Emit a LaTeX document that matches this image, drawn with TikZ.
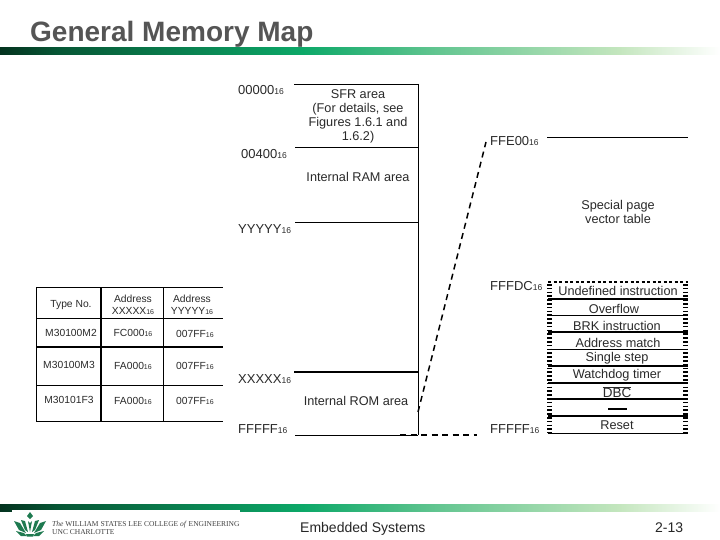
\documentclass[tikz,border=0pt]{standalone}
\usepackage{fontspec}
\setmainfont{Liberation Sans}
\newfontfamily\serifcollege{Liberation Serif}
\usetikzlibrary{shadings}
\definecolor{bardark}{HTML}{04331F}
\definecolor{barmid}{HTML}{0CA868}
\definecolor{barlight}{HTML}{C4E6BE}
\definecolor{titlegray}{HTML}{555555}
\definecolor{textgray}{HTML}{2A2A2A}
\definecolor{logogreen}{HTML}{1E7A50}
\pgfdeclarehorizontalshading{barshade}{100bp}{
  color(0bp)=(bardark); color(25bp)=(bardark); color(29bp)=(bardark!70!barmid); color(46bp)=(barmid);
  color(56bp)=(barmid!50!barlight); color(68bp)=(barlight); color(75bp)=(white); color(100bp)=(white)}
\newcommand{\hexsub}[2][8.5]{#2{\fontsize{#1}{9}\selectfont 16}}
\tikzset{
  x=1pt,y=-1pt,
  lab/.style={inner sep=0pt,font=\fontsize{12.7}{14}\selectfont,text=textgray,align=center},
  addr/.style={inner sep=0pt,anchor=west,font=\fontsize{13}{14}\selectfont,text=textgray},
  tab/.style={inner sep=0pt,font=\fontsize{10.3}{11.5}\selectfont,text=textgray,align=center},
  rule/.style={draw=black,line width=0.8pt},
  thick rule/.style={draw=black,line width=1.5pt},
  side dash/.style={draw=black,line width=5pt,dash pattern=on 1.6pt off 2.2pt},
  link/.style={draw=black,line width=1.5pt,dash pattern=on 6pt off 4.5pt},
}
\begin{document}
\begin{tikzpicture}
\useasboundingbox (0,0) rectangle (720,540);
\fill[white] (0,0) rectangle (720,540);
% header and footer bars
\shade[shading=barshade] (0,48) rectangle (720,55);
\shade[shading=barshade] (0,504) rectangle (720,511);
\fill[white] (12,510) rectangle (240,513);
\node[inner sep=0pt,anchor=base west,font=\bfseries\fontsize{28}{30}\selectfont,text=titlegray] (title) at (30,42) {General Memory Map};
% memory map
\coordinate (mt) at (418,84); \coordinate (mb) at (418,435);
\draw[rule] (mt) -- (mb);
\draw[rule] (294,84) -- (mt);
\draw[rule] (295,147) -- (418,147);
\draw[rule] (295,222) -- (418,222);
\draw[thick rule] (294,372) -- (418,372);
\draw[rule] (295,435) -- (mb);
\node[addr] (a0) at (238,90) {\hexsub{00000}};
\node[addr] (a1) at (241,154) {\hexsub{00400}};
\node[addr] (a2) at (238,229) {\hexsub{YYYYY}};
\node[addr] (a3) at (238,379) {\hexsub{XXXXX}};
\node[addr] (a4) at (238,429) {\hexsub{FFFFF}};
\node[lab] (sfr) at (358,116) {SFR area\\(For details, see\\Figures 1.6.1 and\\1.6.2)};
\node[lab] (ram) at (358,177) {Internal RAM area};
\node[lab] (rom) at (356,401) {Internal ROM area};
% expansion
\coordinate (zb) at (418,412); \coordinate (zt) at (486,142);
\draw[link] (zb) -- (zt);
\draw[link] (400,435) -- (477,435);
\node[addr] (b0) at (490,141) {\hexsub{FFE00}};
\node[addr] (b1) at (490,286) {\hexsub{FFFDC}};
\node[addr] (b2) at (490,429) {\hexsub{FFFFF}};
\draw[rule] (547,137) -- (688,137);
\node[lab] (spv) at (618,212) {Special page\\vector table};
% vector table
\draw[draw=black,line width=1.2pt,dash pattern=on 3pt off 2.5pt] (548,282) -- (688,282);
\draw[side dash] (549.5,284) -- (549.5,433);
\draw[side dash] (685.5,284) -- (685.5,433);
\foreach \yy/\wd in {299/1.5,315/0.9,332/1.5,349/1,366/1.3,383/1.3,399/1.3,416/1.3,433/0.9}
  \draw[draw=black,line width=\wd pt] (548,\yy) -- (688,\yy);
\draw[draw=black,line width=1.5pt] (608,409) -- (627,409);
\node[lab] (v1) at (618,291) {Undefined instruction};
\node[lab] (v2) at (614,309) {Overflow};
\node[lab] (v3) at (617,326) {BRK instruction};
\node[lab] (v4) at (618,343) {Address match};
\node[lab] (v5) at (617,358) {Single step};
\node[lab] (v6) at (617,375) {Watchdog timer};
\node[lab,font=\fontsize{13.5}{14}\selectfont] (v7) at (617,392) {$\overline{\hbox{DBC}}$};
\node[lab] (v8) at (617,425) {Reset};
% type table
\draw[rule] (36,287) -- (223,287);
\draw[rule] (36,318) -- (223,318);
\draw[thick rule] (36,347) -- (223,347);
\draw[rule] (36,385) -- (223,385);
\draw[rule] (36,421) -- (223,421);
\draw[rule] (36,287) -- (36,421);
\draw[thick rule] (101,287) -- (101,421);
\draw[rule] (163,287) -- (163,421);
\node[tab] (t0) at (71,305) {Type No.};
\node[tab] (t1) at (133,305) {Address\\\hexsub[7]{XXXXX}};
\node[tab] (t2) at (192,305) {Address\\\hexsub[7]{YYYYY}};
\node[tab] (c10) at (71,333) {M30100M2};
\node[tab] (c11) at (133,333) {\hexsub[7]{FC000}};
\node[tab] (c12) at (195,334) {\hexsub[7]{007FF}};
\node[tab] (c20) at (69,365) {M30100M3};
\node[tab] (c21) at (133,366) {\hexsub[7]{FA000}};
\node[tab] (c22) at (195,366) {\hexsub[7]{007FF}};
\node[tab] (c30) at (69,400) {M30101F3};
\node[tab] (c31) at (133,401) {\hexsub[7]{FA000}};
\node[tab] (c32) at (195,401) {\hexsub[7]{007FF}};
% footer emblem
\begin{scope}[logogreen]
\fill (30,512) -- (33,516) -- (30,519) -- (27,516) -- cycle;
\fill (28,521) -- (30,532) -- (32,521) -- (30,523) -- cycle;
\fill (21,520) -- (25,521) -- (28,532) -- (25,530) -- cycle;
\fill (39,520) -- (35,521) -- (32,532) -- (35,530) -- cycle;
\fill (14,521) -- (20,523) -- (26,533) -- (19,530) -- cycle;
\fill (46,521) -- (40,523) -- (34,533) -- (41,530) -- cycle;
\fill (16,531) -- (24,533) -- (27,536) -- (21,536) -- cycle;
\fill (44,531) -- (36,533) -- (33,536) -- (39,536) -- cycle;
\fill (26,534) -- (34,534) -- (33,536.5) -- (27,536.5) -- cycle;
\end{scope}
\node[inner sep=0pt,anchor=base west,font=\serifcollege\fontsize{7.5}{8}\selectfont,text=black!75] (lee) at (52,526) {\textit{The} WILLIAM STATES LEE COLLEGE \textit{of} ENGINEERING};
\node[inner sep=0pt,anchor=base west,font=\serifcollege\fontsize{7.5}{8}\selectfont,text=black!75] (unc) at (52,534.5) {UNC CHARLOTTE};
\node[inner sep=0pt,anchor=base west,font=\fontsize{14}{15}\selectfont,text=black!85] (foot) at (300,532) {Embedded Systems};
\node[inner sep=0pt,anchor=base west,font=\fontsize{14}{15}\selectfont,text=black!85] (pg) at (655,532) {2-13};
\end{tikzpicture}
\end{document}
